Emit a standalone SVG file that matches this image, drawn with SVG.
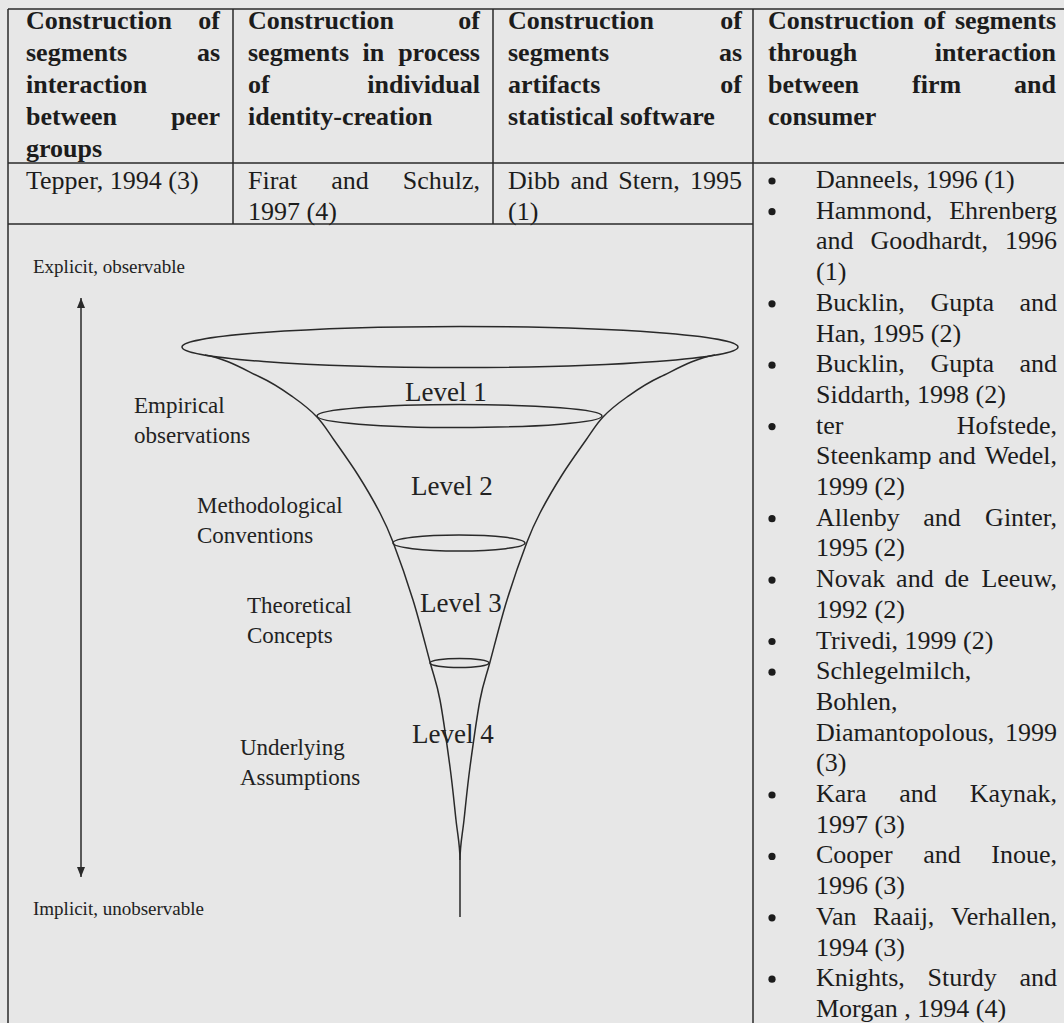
<svg xmlns="http://www.w3.org/2000/svg" width="1064" height="1023" viewBox="0 0 1064 1023">
<defs>
<style>
.t{font-family:"Liberation Serif","Times New Roman",serif;font-size:26px;fill:#1c1c1c}
.b{font-weight:bold}
.e{text-anchor:end}
.d{font-family:"Liberation Serif","Times New Roman",serif;fill:#222}
.lv{font-size:27px}
.lb{font-size:23px}
.sm{font-size:19px}
.ln{stroke:#2a2a2a;stroke-width:1.5;fill:none}
.fn{stroke:#2a2a2a;stroke-width:1.5;fill:none}
.bu{fill:#1c1c1c}
</style>
<marker id="ah" viewBox="0 0 10 8" refX="10" refY="4" markerWidth="10" markerHeight="8" markerUnits="userSpaceOnUse" orient="auto-start-reverse">
<path d="M0,0 L10,4 L0,8 z" fill="#2a2a2a"/>
</marker>
</defs>
<rect width="1064" height="1023" fill="#e7e7e7"/>

<g id="table-lines" class="ln">
<line x1="8" y1="9" x2="1064" y2="9"/>
<line x1="8" y1="163" x2="1064" y2="163"/>
<line x1="8" y1="224" x2="753" y2="224"/>
<line x1="8" y1="9" x2="8" y2="1023"/>
<line x1="233" y1="9" x2="233" y2="224"/>
<line x1="493" y1="9" x2="493" y2="224"/>
<line x1="753" y1="9" x2="753" y2="1023"/>
</g>

<g id="header-col1" class="t b">
<text x="26" y="29">Construction</text><text class="e" x="220" y="29">of</text>
<text x="26" y="61">segments</text><text class="e" x="220" y="61">as</text>
<text x="26" y="93">interaction</text>
<text x="26" y="125">between</text><text class="e" x="220" y="125">peer</text>
<text x="26" y="157">groups</text>
</g>
<g id="header-col2" class="t b">
<text x="248" y="29">Construction</text><text class="e" x="480" y="29">of</text>
<text x="248" y="61">segments</text><text x="362.5" y="61">in</text><text class="e" x="480" y="61">process</text>
<text x="248" y="93">of</text><text class="e" x="480" y="93">individual</text>
<text x="248" y="125">identity-creation</text>
</g>
<g id="header-col3" class="t b">
<text x="508" y="29">Construction</text><text class="e" x="742" y="29">of</text>
<text x="508" y="61">segments</text><text class="e" x="742" y="61">as</text>
<text x="508" y="93">artifacts</text><text class="e" x="742" y="93">of</text>
<text x="508" y="125">statistical software</text>
</g>
<g id="header-col4" class="t b">
<text x="768" y="29">Construction</text><text x="923.5" y="29">of</text><text class="e" x="1056" y="29">segments</text>
<text x="768" y="61">through</text><text class="e" x="1056" y="61">interaction</text>
<text x="768" y="93">between</text><text x="912" y="93">firm</text><text class="e" x="1056" y="93">and</text>
<text x="768" y="125">consumer</text>
</g>

<g id="row2-col1" class="t">
<text x="26" y="188.5">Tepper, 1994 (3)</text>
</g>
<g id="row2-col2" class="t">
<text x="248" y="188.5">Firat</text><text x="331.2" y="188.5">and</text><text class="e" x="480" y="188.5">Schulz,</text>
<text x="248" y="219.5">1997 (4)</text>
</g>
<g id="row2-col3" class="t">
<text x="508" y="188.5">Dibb</text><text x="570.4" y="188.5">and</text><text x="618.3" y="188.5">Stern,</text><text class="e" x="742" y="188.5">1995</text>
<text x="508" y="219.5">(1)</text>
</g>

<g id="col4-list" class="t">
<g class="bu">
<circle cx="772" cy="181" r="3.6"/>
<circle cx="772" cy="211.7" r="3.6"/>
<circle cx="772" cy="303.8" r="3.6"/>
<circle cx="772" cy="365.2" r="3.6"/>
<circle cx="772" cy="426.6" r="3.6"/>
<circle cx="772" cy="518.7" r="3.6"/>
<circle cx="772" cy="580.1" r="3.6"/>
<circle cx="772" cy="641.5" r="3.6"/>
<circle cx="772" cy="672.2" r="3.6"/>
<circle cx="772" cy="795" r="3.6"/>
<circle cx="772" cy="856.4" r="3.6"/>
<circle cx="772" cy="917.8" r="3.6"/>
<circle cx="772" cy="979.2" r="3.6"/>
</g>
<text x="816" y="188">Danneels, 1996 (1)</text>
<text x="816" y="218.7">Hammond,</text><text class="e" x="1057" y="218.7">Ehrenberg</text>
<text x="816" y="249.4">and</text><text x="870.4" y="249.4">Goodhardt,</text><text class="e" x="1057" y="249.4">1996</text>
<text x="816" y="280.1">(1)</text>
<text x="816" y="310.8">Bucklin,</text><text x="930.4" y="310.8">Gupta</text><text class="e" x="1057" y="310.8">and</text>
<text x="816" y="341.5">Han, 1995 (2)</text>
<text x="816" y="372.2">Bucklin,</text><text x="930.4" y="372.2">Gupta</text><text class="e" x="1057" y="372.2">and</text>
<text x="816" y="402.9">Siddarth, 1998 (2)</text>
<text x="816" y="433.6">ter</text><text class="e" x="1057" y="433.6">Hofstede,</text>
<text x="816" y="464.3">Steenkamp</text><text x="938.3" y="464.3">and</text><text class="e" x="1057" y="464.3">Wedel,</text>
<text x="816" y="495">1999 (2)</text>
<text x="816" y="525.7">Allenby</text><text x="923.2" y="525.7">and</text><text class="e" x="1057" y="525.7">Ginter,</text>
<text x="816" y="556.4">1995 (2)</text>
<text x="816" y="587.1">Novak</text><text x="896.1" y="587.1">and</text><text x="944.4" y="587.1">de</text><text class="e" x="1057" y="587.1">Leeuw,</text>
<text x="816" y="617.8">1992 (2)</text>
<text x="816" y="648.5">Trivedi, 1999 (2)</text>
<text x="816" y="679.2">Schlegelmilch,</text>
<text x="816" y="709.9">Bohlen,</text>
<text x="816" y="740.6">Diamantopolous,</text><text class="e" x="1057" y="740.6">1999</text>
<text x="816" y="771.3">(3)</text>
<text x="816" y="802">Kara</text><text x="899.3" y="802">and</text><text class="e" x="1057" y="802">Kaynak,</text>
<text x="816" y="832.7">1997 (3)</text>
<text x="816" y="863.4">Cooper</text><text x="923.2" y="863.4">and</text><text class="e" x="1057" y="863.4">Inoue,</text>
<text x="816" y="894.1">1996 (3)</text>
<text x="816" y="924.8">Van</text><text x="873" y="924.8">Raaij,</text><text class="e" x="1057" y="924.8">Verhallen,</text>
<text x="816" y="955.5">1994 (3)</text>
<text x="816" y="986.2">Knights,</text><text x="927.5" y="986.2">Sturdy</text><text class="e" x="1057" y="986.2">and</text>
<text x="816" y="1016.5">Morgan , 1994 (4)</text>
</g>

<g id="funnel" class="fn">
<ellipse cx="460" cy="347" rx="278" ry="20.5"/>
<ellipse cx="459.5" cy="416" rx="142.5" ry="11.5"/>
<ellipse cx="459" cy="543" rx="66" ry="8"/>
<ellipse cx="459.5" cy="663" rx="29.5" ry="4.5"/>
<path d="M205,355 C225,358 245.3,370.2 260,377 C274.7,383.8 283.5,390.3 293,397 C302.5,403.7 310.2,409.8 317,417 C323.8,424.2 327.2,430.3 334,440 C340.8,449.7 350.3,462.8 358,475 C365.7,487.2 374.2,501.8 380,513 C385.8,524.2 387.5,527.5 393,542 C398.5,556.5 406.8,580 413,600 C419.2,620 425.5,645.3 430,662 C434.5,678.7 436.7,682.5 440,700 C443.3,717.5 447.3,747 450,767 C452.7,787 454.3,804.5 456,820 C457.7,835.5 460,845 460,860 L460,917"/>
<path d="M715,355 C695,358 674.7,370.2 660,377 C645.3,383.8 636.5,390.3 627,397 C617.5,403.7 609.8,409.8 603,417 C596.2,424.2 592.8,430.3 586,440 C579.2,449.7 569.7,462.8 562,475 C554.3,487.2 545.8,501.8 540,513 C534.2,524.2 532.5,527.5 527,542 C521.5,556.5 513.2,580 507,600 C500.8,620 494.5,645.3 490,662 C485.5,678.7 483.3,682.5 480,700 C476.7,717.5 472.7,747 470,767 C467.3,787 465.7,804.5 464,820 C462.3,835.5 460,845 460,860"/>
</g>

<g id="levels" class="d lv">
<text x="405" y="401">Level 1</text>
<text x="411" y="495">Level 2</text>
<text x="420" y="612">Level 3</text>
<text x="412" y="743">Level 4</text>
</g>

<g id="layer-labels" class="d lb">
<text x="134" y="413">Empirical</text>
<text x="134" y="443">observations</text>
<text x="197" y="513">Methodological</text>
<text x="197" y="543">Conventions</text>
<text x="247" y="613">Theoretical</text>
<text x="247" y="643">Concepts</text>
<text x="240" y="755">Underlying</text>
<text x="240" y="785">Assumptions</text>
</g>

<g id="axis-labels" class="d sm">
<text x="33" y="273">Explicit, observable</text>
<text x="33" y="915">Implicit, unobservable</text>
</g>

<g id="connectors">
<line x1="81" y1="298" x2="81" y2="877" stroke="#2a2a2a" stroke-width="1.5" marker-start="url(#ah)" marker-end="url(#ah)"/>
</g>
</svg>
